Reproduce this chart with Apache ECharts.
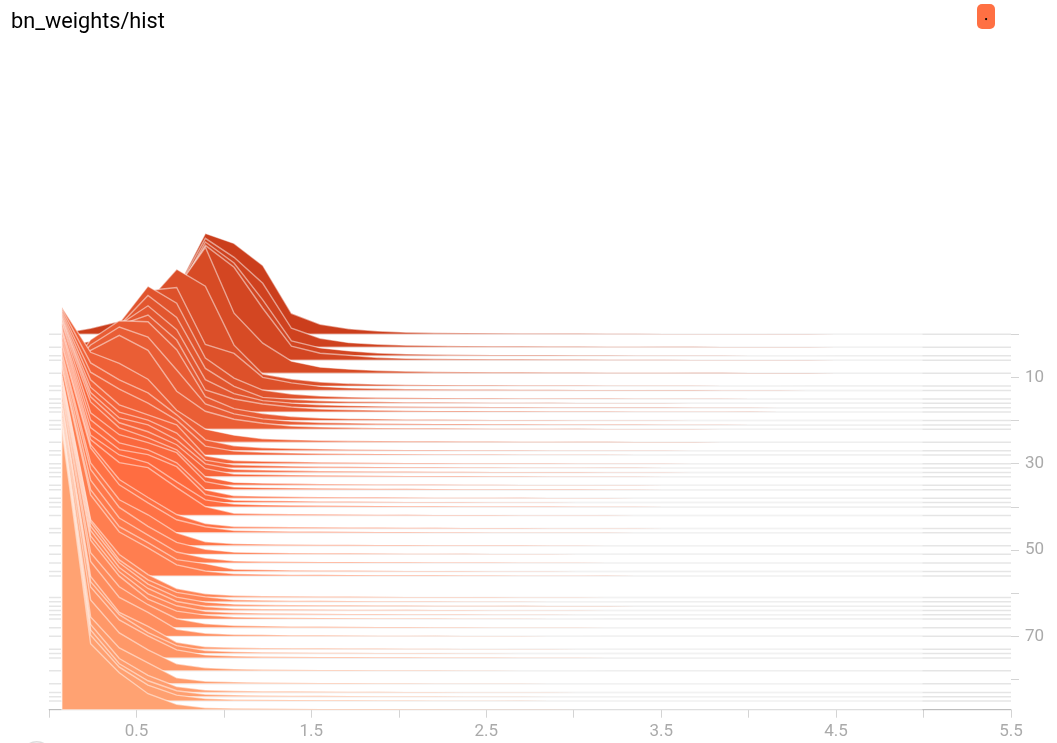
<!DOCTYPE html>
<html><head><meta charset="utf-8">
<style>html,body{margin:0;padding:0;background:#fff}#c{width:1057px;height:743px}</style>
<script src="https://cdn.jsdelivr.net/npm/echarts@6/dist/echarts.min.js"></script>
</head><body><div id="c"></div>
<script>
const chartTitle = 'bn_weights/hist';
const xTicksLabelled = [0.5,1.5,2.5,3.5,4.5,5.5];
const yTicks = [0,10,20,30,40,50,60,70,80];
const yTicksLabelled = [10,30,50,70];
const binX = [0.074,0.238,0.402,0.566,0.73,0.894,1.058,1.222,1.386,1.55,1.714,1.878,2.042,2.206,2.37,2.534,2.698,2.862,3.026,3.19,3.354,3.518,3.682,3.846,4.01,4.174,4.338,4.502,4.666,4.83,4.994];
const steps = [0,3,5,6,9,12,13,15,16,17,18,20,21,22,25,27,28,30,31,32,33,35,36,38,39,40,42,45,46,49,51,53,55,56,61,62,63,64,65,66,68,70,73,74,75,78,81,83,84,85,87];
const h00=[1,6,13,28,45,101,91,69,21,10,5.5,3.3,2.1,1.6,1.3,1.1,.9,.8,.7,.6,.5,.4,.4,.3,.3,.2,.2,.1];
const h03=[1,6,14,30,57,109,90,64,19,9,4.6,3,2,1.6,1.3,1.1,.9,.8,.7,.6,.5,.4,.4,.3,.3,.2,.2,.1];
const h05=[2,7,15,32,62,114,93,56,15,8,5,2.8,1.9,1.5,1.2,1,.9,.8,.6,.6,.5,.4,.3,.3,.2,.2,.1];
const h06=[2,8,16,34,68,115,93,52,14,7,5,2.6,1.8,1.4,1.2,1,.9,.7,.6,.5,.4,.4,.3,.3,.2,.2,.1];
const h09=[4,10,22,45,85,126,60,30,12,6,4,2.6,1.9,1.4,1.2,1,.9,.7,.6,.5,.5,.4,.3,.3,.2,.2,.1];
const h12=[8,20,45,85,117,100,41,12,7,4,2.5,1.8,1.4,1.1,.9,.8,.7,.6,.5,.4,.4,.3,.3,.2,.2,.1];
const h13=[10,22,58,100,103,46,37,13,7.5,4,2.5,1.8,1.4,1.1,.9,.8,.7,.6,.5,.4,.4,.3,.3,.2,.2,.1];
const h15=[20,50,76,113,96,41,21,9,5,3,2.1,1.6,1.3,1,.9,.7,.6,.5,.5,.4,.3,.3,.2,.2,.1];
const h16=[25,55,78,108,86,35,17,6,4,2.6,1.9,1.5,1.2,1,.8,.7,.6,.5,.4,.4,.3,.3,.2,.2,.1];
const h17=[30,60,83,102,78,28,14,7,4.5,2.8,2,1.5,1.2,1,.9,.7,.6,.5,.4,.4,.3,.3,.2,.2,.1];
const h18=[35,65,87,97,72,22,13,8,5,3,2.1,1.6,1.3,1,.9,.7,.6,.5,.5,.4,.3,.3,.2,.2,.1];
const h20=[40,81,100,99,71,24,12,7,4,2.6,1.9,1.5,1.2,1,.8,.7,.6,.5,.4,.4,.3,.3,.2,.2,.1];
const h21=[50,80,98,88,55,21,11,6,3.6,2.4,1.8,1.4,1.1,.9,.8,.7,.6,.5,.4,.3,.3,.2,.2,.1];
const h22=[60,79,94,79,38,18,10,6,3.2,2.2,1.7,1.3,1.1,.9,.8,.6,.5,.5,.4,.3,.3,.2,.2,.1];
const h25=[135,90,79,63,32,13,7,3.4,2.4,1.8,1.4,1.1,.9,.8,.7,.6,.5,.4,.3,.3,.2,.2,.1];
const h27=[142,88,71,58,36,11,5,3,2.3,1.8,1.4,1.1,.9,.8,.6,.5,.5,.4,.3,.3,.2,.2,.1];
const h28=[144,83,66,52,35,9,4,2.8,2.1,1.6,1.3,1.1,.9,.7,.6,.5,.4,.4,.3,.3,.2,.1];
const h30=[150,84,59,49,39,8,3.2,2.5,1.9,1.5,1.2,1,.8,.7,.6,.5,.5,.4,.3,.3,.2,.2,.1];
const h31=[152,81,56,48,35,8,3.2,2.5,1.9,1.5,1.2,1,.8,.7,.6,.5,.4,.4,.3,.2,.2,.1];
const h32=[154,80,54.5,47.5,32.5,8.5,3.1,2.4,1.8,1.4,1.2,1,.8,.7,.6,.5,.4,.3,.3,.2,.2,.1];
const h33=[157,80,54,45,32,8,2.6,2.1,1.7,1.4,1.1,.9,.8,.7,.6,.5,.4,.3,.3,.2,.1];
const h35=[163,83.5,57.5,47.5,35.5,8.5,2.9,2.2,1.7,1.4,1.1,.9,.8,.7,.6,.5,.4,.4,.3,.2,.2,.1];
const h36=[166,77,55,47,37,8,2.6,2,1.6,1.3,1.1,.9,.8,.6,.5,.5,.4,.3,.3,.2,.1];
const h38=[170,78.5,55.5,48.5,35.5,8.5,2.4,1.9,1.6,1.3,1.1,.9,.8,.6,.5,.5,.4,.3,.2,.2,.1];
const h39=[172,75,53,48,36,8,2.4,1.9,1.5,1.2,1,.9,.7,.6,.5,.4,.4,.3,.2,.2,.1];
const h40=[174,72,52,44,25,7,2.8,2,1.6,1.3,1.1,.9,.7,.6,.5,.4,.4,.3,.2,.2,.1];
const h42=[178,76,53,48,28,9,2.3,1.8,1.5,1.2,1,.9,.7,.6,.5,.5,.4,.3,.3,.2,.1];
const h45=[186,84,49,31,14,5,2,1.7,1.4,1.2,1,.9,.8,.6,.5,.5,.4,.3,.3,.2,.1];
const h46=[187,85,48,30,13,6,2.3,1.8,1.4,1.2,1,.8,.7,.6,.5,.4,.4,.3,.2,.2,.1];
const h49=[194,83,46,31,13,4,2,1.6,1.3,1.1,1,.8,.7,.6,.5,.4,.4,.3,.2,.1];
const h51=[199,85,47,28,12,5,2.2,1.7,1.4,1.2,1,.8,.7,.6,.5,.4,.3,.3,.2,.1];
const h53=[203,83,45,28,11,5,1.9,1.5,1.2,1,.9,.8,.7,.6,.5,.4,.3,.3,.2,.1];
const h55=[207,82,45,29,12,8,2.3,1.8,1.4,1.1,1,.8,.7,.6,.5,.4,.3,.3,.2,.1];
const h56=[208,81,44,28,11,5,2.2,1.7,1.3,1.1,.9,.8,.7,.6,.5,.4,.3,.2,.2,.1];
const h61=[222,78,43,23,9,3.8,2,1.5,1.2,1,.9,.8,.6,.5,.5,.4,.3,.3,.2,.1];
const h62=[224,80,42,22,9.4,5,2.1,1.6,1.2,1,.9,.7,.6,.5,.4,.4,.3,.2,.2,.1];
const h63=[226,80,43.5,22,9,4,2,1.5,1.2,1,.8,.7,.6,.5,.4,.4,.3,.2,.2,.1];
const h64=[228,80,43,22,9,4,2,1.5,1.2,1,.8,.7,.6,.5,.4,.3,.3,.2,.1];
const h65=[230,79,43,21,9,3.5,1.9,1.5,1.2,1,.8,.7,.6,.5,.4,.3,.3,.2,.1];
const h66=[231,79,43,20,8,4,2,1.6,1.3,1,.9,.7,.6,.5,.4,.3,.3,.2,.1];
const h68=[236,75,41,23,9,4,2.2,1.7,1.3,1.1,.9,.7,.6,.5,.4,.3,.3,.2,.1];
const h70=[241,75,39,24,7,3,1.9,1.5,1.2,1,.9,.7,.6,.5,.4,.3,.3,.2,.1];
const h73=[248,73,37,23,7,2.5,1.8,1.4,1.1,1,.8,.7,.6,.5,.4,.3,.2,.2,.1];
const h74=[249,72,39,21,8,3,1.9,1.4,1.1,.9,.8,.7,.6,.5,.4,.3,.2,.2,.1];
const h75=[250,71,38,22,8,3,1.8,1.4,1.1,.9,.8,.7,.6,.5,.4,.3,.2,.2,.1];
const h78=[258,71,38,21,7,3,1.9,1.4,1.1,.9,.8,.7,.5,.5,.4,.3,.2,.2,.1];
const h81=[266,67,36,21,6,2.5,1.7,1.3,1.1,.9,.8,.6,.5,.4,.4,.3,.2,.1];
const h83=[271,68,34,17,6,2.5,1.7,1.3,1.1,.9,.7,.6,.5,.4,.3,.3,.2,.1];
const h84=[273,67,33,16,6,2.5,1.7,1.3,1.1,.9,.7,.6,.5,.4,.3,.3,.2,.1];
const h85=[275,66,34,16,6,2.5,1.6,1.3,1,.9,.7,.6,.5,.4,.3,.3,.2,.1];
const h87=[280,66,37,16,5.5,2,1.4,1.2,1,.8,.7,.6,.5,.4,.3,.2,.2,.1];
const heights=[h00,h03,h05,h06,h09,h12,h13,h15,h16,h17,h18,h20,h21,h22,h25,h27,h28,h30,h31,h32,h33,h35,h36,h38,h39,h40,h42,h45,h46,h49,h51,h53,h55,h56,h61,h62,h63,h64,h65,h66,h68,h70,h73,h74,h75,h78,h81,h83,h84,h85,h87];
const heightPerStep = 4.32;
const colorStops = [[0,[203,62,28]],[10,[216,76,38]],[20,[232,92,52]],[40,[255,107,63]],[60,[255,131,84]],[87,[255,162,114]]];
function stepColor(s){
  for(let i=1;i<colorStops.length;i++){
    const a=colorStops[i-1],b=colorStops[i];
    if(s<=b[0]){const t=(s-a[0])/(b[0]-a[0]);
      return 'rgb('+a[1].map((v,k)=>Math.round(v+(b[1][k]-v)*t)).join(',')+')';}
  }
  return '#ffa272';
}
const chart = echarts.init(document.getElementById('c'),null,{renderer:'canvas'});
const grey='#aaaaaa', axisGrey='#d4d4d4', fontFam='Roboto, sans-serif';
chart.setOption({
  animation:false,
  title:{text:chartTitle,left:11,top:12,padding:0,textStyle:{fontFamily:fontFam,fontSize:21.7,fontWeight:'normal',color:'#000'}},
  grid:{left:49,right:46,top:334.3,height:375.4,containLabel:false},
  xAxis:{type:'value',position:'bottom',min:0,max:5.5,interval:0.5,
    splitLine:{show:false},
    axisLine:{onZero:false,lineStyle:{color:axisGrey,width:1}},
    axisTick:{length:8,lineStyle:{color:axisGrey}},
    axisLabel:{customValues:xTicksLabelled,color:grey,fontFamily:fontFam,fontSize:17,margin:14,
      formatter:v=>v.toFixed(1),hideOverlap:false}},
  yAxis:{type:'value',inverse:true,position:'right',min:0,max:87,
    splitLine:{show:false},
    axisLine:{show:false,onZero:false},
    axisTick:{show:true,customValues:yTicks,length:8,lineStyle:{color:axisGrey}},
    axisLabel:{customValues:yTicksLabelled,color:grey,fontFamily:fontFam,fontSize:17,margin:14,padding:[10,0,0,0]}},
  series:[{
    type:'custom',coordinateSystem:'cartesian2d',silent:true,clip:false,
    data:steps.map((s,i)=>[i,s]),encode:{x:0,y:1},
    renderItem:function(params,api){
      const i=api.value(0), s=api.value(1), row=heights[i];
      const top=binX.map((x,k)=>api.coord([x,s-(row[k]||0)/heightPerStep]));
      const start=api.coord([binX[0],s]), end=api.coord([binX[binX.length-1],s]);
      const a=api.coord([0,s]), b=api.coord([5.5,s]);
      return {type:'group',children:[
        {type:'line',shape:{x1:a[0],y1:a[1],x2:b[0],y2:b[1]},style:{stroke:'rgba(0,0,0,0.1)',lineWidth:1.5}},
        {type:'polygon',shape:{points:[start].concat(top,[end])},
          style:{fill:stepColor(s),stroke:'rgba(255,255,255,0.5)',lineWidth:1.4,lineJoin:'miter'}}
      ]};
    }
  }],
  graphic:[
    {type:'rect',left:977,top:4,shape:{width:18,height:25,r:5},style:{fill:'#ff7043'}},
    {type:'circle',left:985,top:18,shape:{r:1.1},style:{fill:'#000'}},
    {type:'circle',left:21,top:741,shape:{r:15},style:{fill:'#fff',stroke:'#dddddd',lineWidth:1.5}}
  ]
});
</script></body></html>
